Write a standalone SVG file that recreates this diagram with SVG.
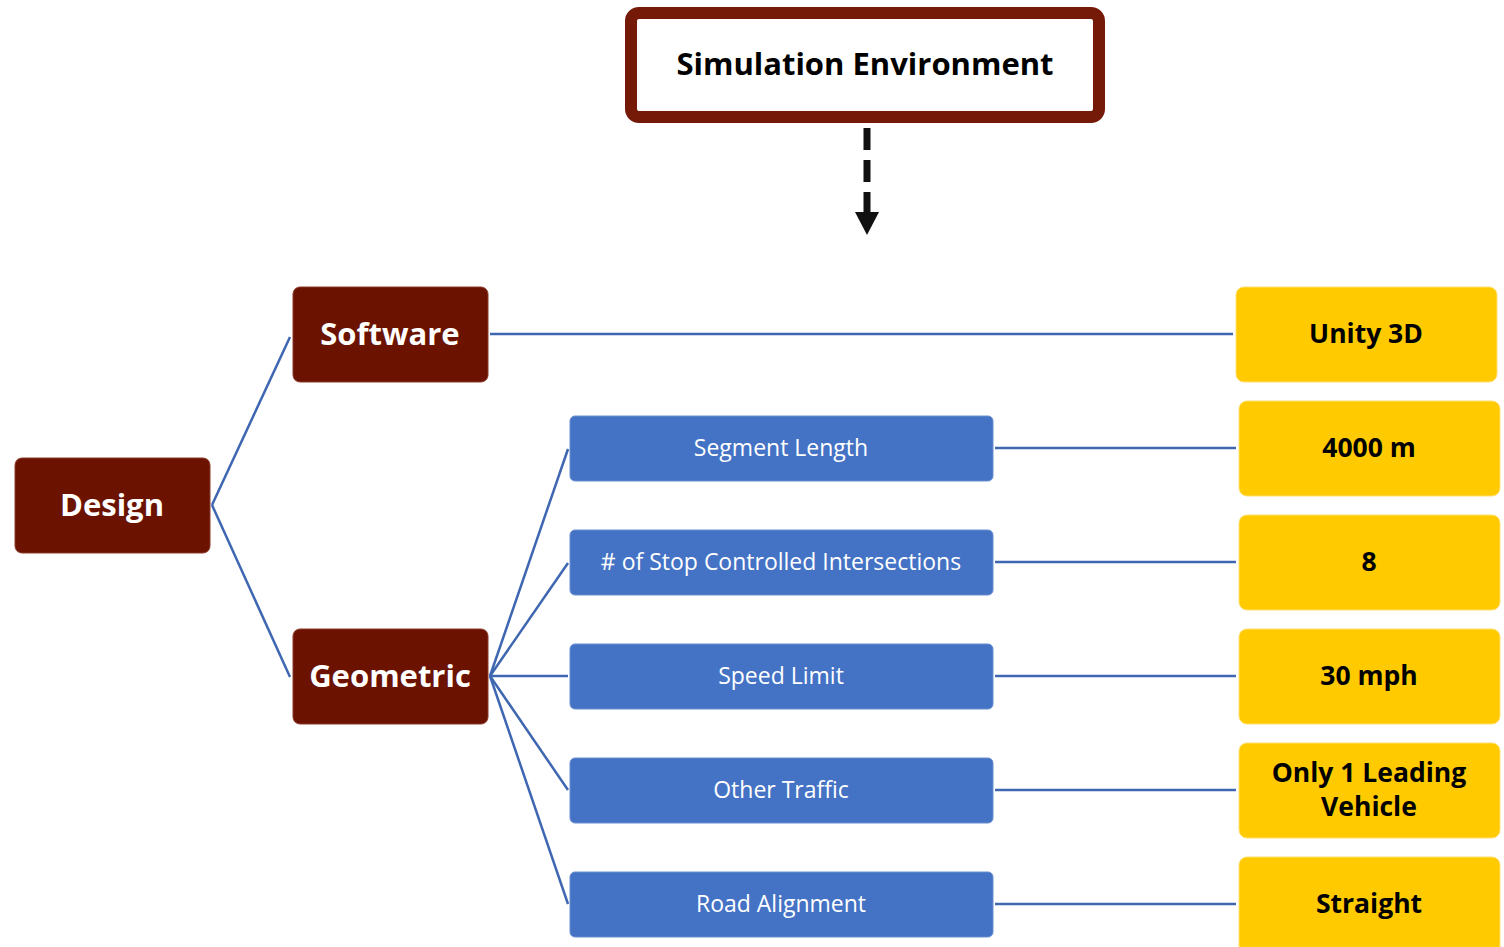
<svg xmlns="http://www.w3.org/2000/svg" width="1504" height="947" viewBox="0 0 1504 947">
<style>
.dark{fill:#6b1300;stroke:#8a3a2a;stroke-width:1}
.blue{fill:#4472c4;stroke:#6a8fd0;stroke-width:1}
.yel{fill:#ffca00;stroke:#ffe070;stroke-width:1}
.tw{font-family:"Open Sans",sans-serif;font-weight:bold;font-size:31px;fill:#fff;text-anchor:middle;dominant-baseline:central}
.tb{font-family:"Open Sans",sans-serif;font-size:23px;fill:#fff;text-anchor:middle;dominant-baseline:central}
.ty{font-family:"Open Sans",sans-serif;font-weight:bold;font-size:26.5px;fill:#000;text-anchor:middle;dominant-baseline:central}
.con{stroke:#3f67b1;stroke-width:2.5;fill:none}
</style>
<g id="sim">
<rect x="631" y="13" width="468" height="104" rx="8" fill="#fff" stroke="#751a08" stroke-width="12"/>
<text x="865" y="63" font-family="Open Sans,sans-serif" font-weight="bold" font-size="31" fill="#000" text-anchor="middle" dominant-baseline="central">Simulation Environment</text>
</g>
<g id="arrow">
<line x1="867" y1="128" x2="867" y2="212" stroke="#111" stroke-width="7" stroke-dasharray="22,10"/>
<path d="M855,212 L879,212 L867,235 Z" fill="#111"/>
</g>
<g id="connectors">
<line class="con" x1="212" y1="505" x2="290" y2="337"/>
<line class="con" x1="212" y1="505" x2="290" y2="677"/>
<line class="con" x1="490" y1="334" x2="1233" y2="334"/>
<line class="con" x1="490" y1="676" x2="568" y2="449"/>
<line class="con" x1="490" y1="676" x2="568" y2="563"/>
<line class="con" x1="490" y1="676" x2="568" y2="676"/>
<line class="con" x1="490" y1="676" x2="568" y2="790"/>
<line class="con" x1="490" y1="676" x2="568" y2="904"/>
<line class="con" x1="995" y1="448" x2="1236" y2="448"/>
<line class="con" x1="995" y1="562" x2="1236" y2="562"/>
<line class="con" x1="995" y1="676" x2="1236" y2="676"/>
<line class="con" x1="995" y1="790" x2="1236" y2="790"/>
<line class="con" x1="995" y1="904" x2="1236" y2="904"/>
</g>
<g id="design"><rect class="dark" x="15" y="458" width="195" height="95" rx="7"/><text class="tw" x="112" y="504">Design</text></g>
<g id="software"><rect class="dark" x="293" y="287" width="195" height="95" rx="7"/><text class="tw" x="390" y="333">Software</text></g>
<g id="geometric"><rect class="dark" x="293" y="629" width="195" height="95" rx="7"/><text class="tw" x="390" y="675">Geometric</text></g>
<g id="seg"><rect class="blue" x="570" y="416" width="423" height="65" rx="5"/><text class="tb" x="781" y="447">Segment Length</text></g>
<g id="stop"><rect class="blue" x="570" y="530" width="423" height="65" rx="5"/><text class="tb" x="781" y="561"># of Stop Controlled Intersections</text></g>
<g id="speed"><rect class="blue" x="570" y="644" width="423" height="65" rx="5"/><text class="tb" x="781" y="675">Speed Limit</text></g>
<g id="traffic"><rect class="blue" x="570" y="758" width="423" height="65" rx="5"/><text class="tb" x="781" y="789">Other Traffic</text></g>
<g id="align"><rect class="blue" x="570" y="872" width="423" height="65" rx="5"/><text class="tb" x="781" y="903">Road Alignment</text></g>
<g id="unity"><rect class="yel" x="1236" y="287" width="261" height="95" rx="8"/><text class="ty" x="1366" y="333">Unity 3D</text></g>
<g id="v4000"><rect class="yel" x="1239" y="401" width="261" height="95" rx="8"/><text class="ty" x="1369" y="447">4000 m</text></g>
<g id="v8"><rect class="yel" x="1239" y="515" width="261" height="95" rx="8"/><text class="ty" x="1369" y="561">8</text></g>
<g id="v30"><rect class="yel" x="1239" y="629" width="261" height="95" rx="8"/><text class="ty" x="1369" y="675">30 mph</text></g>
<g id="vonly"><rect class="yel" x="1239" y="743" width="261" height="95" rx="8"/><text class="ty" x="1369" y="772">Only 1 Leading</text><text class="ty" x="1369" y="806">Vehicle</text></g>
<g id="vstraight"><rect class="yel" x="1239" y="857" width="261" height="100" rx="8"/><text class="ty" x="1369" y="903">Straight</text></g>
</svg>
